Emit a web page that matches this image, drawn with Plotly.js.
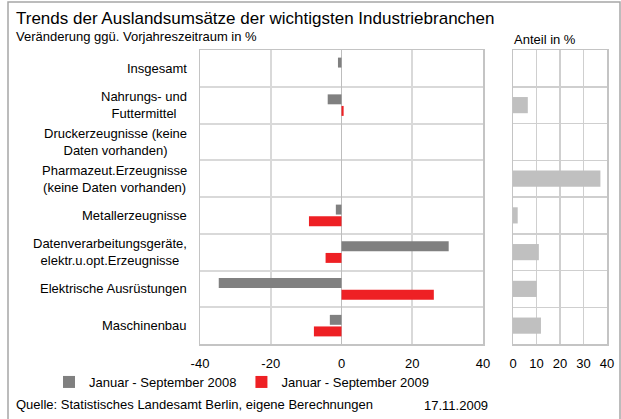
<!DOCTYPE html>
<html>
<head>
<meta charset="utf-8">
<script src="https://cdn.plot.ly/plotly-3.0.1.min.js"></script>
<style>html,body{margin:0;padding:0;background:#fff;}#chart{width:621px;height:419px;}</style>
</head>
<body>
<div id="chart"></div>
<script>
// ---- data ----
var categories = [
  'Insgesamt',
  'Nahrungs- und<br>Futtermittel',
  'Druckerzeugnisse (keine<br>Daten vorhanden)',
  'Pharmazeut.Erzeugnisse<br>(keine Daten vorhanden)',
  'Metallerzeugnisse',
  'Datenverarbeitungsgeräte,<br>elektr.u.opt.Erzeugnisse',
  'Elektrische Ausrüstungen',
  'Maschinenbau'
];
var change2008 = [-1.0, -3.9, null, null, -1.6, 30.3, -34.7, -3.3];
var change2009 = [null, 0.6, null, null, -9.2, -4.5, 26.1, -7.8];
var anteil = [null, 6.3, null, 37.2, 2.0, 11.0, 10.1, 11.9];
var seriesNames = ['Januar - September 2008', 'Januar - September 2009'];
var mainTicks = [-40, -20, 0, 20, 40];
var mainTickText = ['-40', '-20', '0', '20', '40'];
var shareTicks = [0, 10, 20, 30, 40];
var shareTickText = ['0', '10', '20', '30', '40'];

// ---- helpers ----
var W = 621, H = 419;
function px(x) { return x / W; }
function py(y) { return 1 - y / H; }
var FONT = '"Liberation Sans", Arial, sans-serif';

var traces = [
  { type: 'bar', orientation: 'h', name: seriesNames[0], y: categories, x: change2008,
    marker: { color: '#808080' }, xaxis: 'x', yaxis: 'y' },
  { type: 'bar', orientation: 'h', name: seriesNames[1], y: categories, x: change2009,
    marker: { color: '#ee2024' }, xaxis: 'x', yaxis: 'y' },
  { type: 'bar', orientation: 'h', name: 'Anteil in %', y: categories, x: anteil,
    marker: { color: '#c0c0c0' }, width: 0.44, showlegend: false, xaxis: 'x2', yaxis: 'y2' }
];

var gridC = '#d9d9d9', lineC = '#c4c4c4';
var yDomain = [py(344), py(50)];

var annotations = categories.map(function (c) {
  return { xref: 'paper', yref: 'y', x: px(189), y: c, xanchor: 'right', yanchor: 'middle',
    text: c, showarrow: false, align: 'center', font: { size: 13, color: '#000' } };
});
annotations.push(
  { xref: 'paper', yref: 'paper', x: px(14), y: py(18), xanchor: 'left', yanchor: 'middle',
    text: 'Trends der Auslandsumsätze der wichtigsten Industriebranchen', showarrow: false,
    font: { size: 17, color: '#000' } },
  { xref: 'paper', yref: 'paper', x: px(14), y: py(37), xanchor: 'left', yanchor: 'middle',
    text: 'Veränderung ggü. Vorjahreszeitraum in %', showarrow: false,
    font: { size: 13, color: '#000' } },
  { xref: 'paper', yref: 'paper', x: px(512), y: py(39), xanchor: 'left', yanchor: 'middle',
    text: 'Anteil in %', showarrow: false, font: { size: 13, color: '#000' } },
  { xref: 'paper', yref: 'paper', x: px(14), y: py(404), xanchor: 'left', yanchor: 'middle',
    text: 'Quelle: Statistisches Landesamt Berlin, eigene Berechnungen', showarrow: false,
    font: { size: 13, color: '#000' } },
  { xref: 'paper', yref: 'paper', x: px(422), y: py(405), xanchor: 'left', yanchor: 'middle',
    text: '17.11.2009', showarrow: false, font: { size: 13, color: '#000' } }
);

var layout = {
  width: W, height: H, autosize: false,
  margin: { l: 0, r: 0, t: 0, b: 0 },
  paper_bgcolor: '#ffffff', plot_bgcolor: '#ffffff',
  font: { family: FONT, size: 13, color: '#000' },
  barmode: 'group', bargap: 0.37, bargroupgap: 0.14,
  showlegend: true,
  legend: { orientation: 'h', x: px(49), y: py(382), xanchor: 'left', yanchor: 'middle',
    font: { size: 13, color: '#000' }, bgcolor: 'rgba(0,0,0,0)', borderwidth: 0,
    traceorder: 'normal' },
  xaxis: { domain: [px(200), px(483)], range: [-40, 40], tickvals: mainTicks, ticktext: mainTickText,
    ticks: '', ticklabelstandoff: 7, showgrid: true, gridcolor: gridC, gridwidth: 2,
    zeroline: true, zerolinecolor: '#bdbdbd', zerolinewidth: 1,
    showline: true, mirror: true, linecolor: lineC, linewidth: 1.5,
    anchor: 'y', fixedrange: true, tickfont: { size: 13 } },
  yaxis: { domain: yDomain, type: 'category', categoryorder: 'array', categoryarray: categories,
    autorange: 'reversed', tickson: 'boundaries', showgrid: true, gridcolor: gridC, gridwidth: 2,
    showticklabels: false, ticks: '', showline: true, mirror: true, linecolor: lineC, linewidth: 1.5,
    anchor: 'x', fixedrange: true },
  xaxis2: { domain: [px(513), px(607)], range: [0, 40], tickvals: shareTicks, ticktext: shareTickText,
    ticks: '', ticklabelstandoff: 7, showgrid: true, gridcolor: '#cfcfcf', gridwidth: 1.5,
    zeroline: false, showline: true, mirror: true, linecolor: lineC, linewidth: 1.5,
    anchor: 'y2', fixedrange: true, tickfont: { size: 13 } },
  yaxis2: { domain: yDomain, type: 'category', categoryorder: 'array', categoryarray: categories,
    autorange: 'reversed', tickson: 'boundaries', showgrid: true, gridcolor: '#cfcfcf', gridwidth: 1.5,
    showticklabels: false, ticks: '', showline: true, mirror: true, linecolor: lineC, linewidth: 1.5,
    anchor: 'x2', fixedrange: true },
  annotations: annotations,
  shapes: [
    { type: 'path', xref: 'paper', yref: 'paper',
      path: 'M ' + px(8) + ' -0.05 L ' + px(8) + ' ' + py(2) + ' L ' + px(620) + ' ' + py(2) + ' L ' + px(620) + ' -0.05',
      line: { color: '#a6a6a6', width: 1.5 } }
  ]
};

Plotly.newPlot('chart', traces, layout, { staticPlot: true, displayModeBar: false });
</script>
</body>
</html>
